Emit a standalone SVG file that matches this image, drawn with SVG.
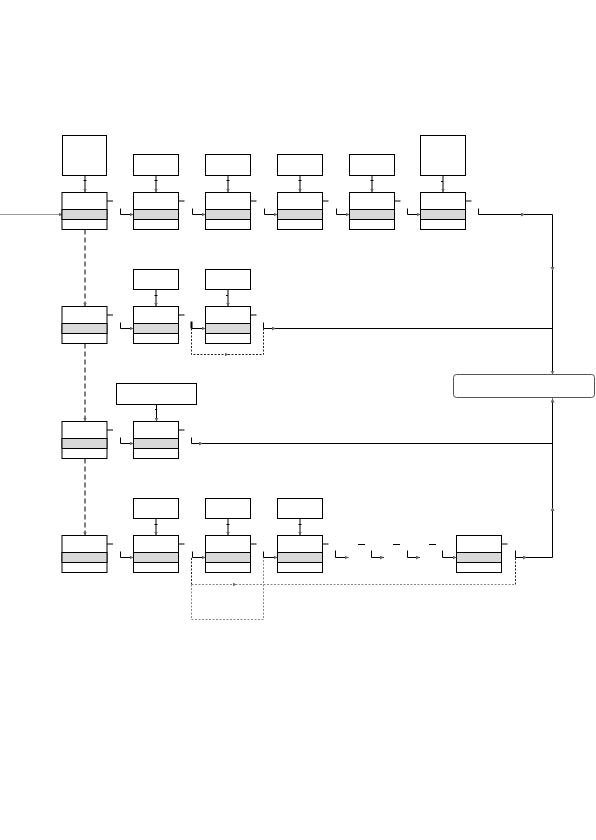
<svg xmlns="http://www.w3.org/2000/svg" width="596" height="840" viewBox="0 0 596 840">
<defs>
<style>
.bx{fill:#fff;stroke:#000;stroke-width:1}
.band{fill:#d9d9d9;stroke:#000;stroke-width:1}
.ln{fill:none;stroke:#000;stroke-width:1}
.dash{fill:none;stroke:#000;stroke-width:1;stroke-dasharray:5,3}
.dotk{fill:none;stroke:#222;stroke-width:1;stroke-dasharray:2,1.5}
.dotg{fill:none;stroke:#888;stroke-width:1;stroke-dasharray:2,1.5}
.gry{fill:none;stroke:#999;stroke-width:1}
.rb{fill:#fff;stroke:#555;stroke-width:1}
</style>
<marker id="ah" markerUnits="userSpaceOnUse" markerWidth="5" markerHeight="5" refX="4" refY="2" orient="auto">
<path d="M0,0 L4,2 L0,4 z" fill="#666"/>
</marker>
<g id="node">
<rect class="bx" x="0" y="0" width="45" height="37"/>
<rect class="band" x="0" y="17" width="45" height="10"/>
<line class="ln" x1="45" y1="8.5" x2="51" y2="8.5"/>
</g>
</defs>
<rect width="596" height="840" fill="#fff"/>

<g id="connectors">
<!-- incoming -->
<path class="gry" d="M0,214.5 H62.5" marker-end="url(#ah)"/>
<!-- box to node verticals row1 -->
<path class="ln" d="M85,175.5 V192.5" marker-end="url(#ah)"/>
<path class="ln" d="M156,175.5 V192.5" marker-end="url(#ah)"/>
<path class="ln" d="M228,175.5 V192.5" marker-end="url(#ah)"/>
<path class="ln" d="M300,175.5 V192.5" marker-end="url(#ah)"/>
<path class="ln" d="M372,175.5 V192.5" marker-end="url(#ah)"/>
<path class="ln" d="M443,175.5 V192.5" marker-end="url(#ah)"/>
<path class="ln" d="M83.5,180.5 H86.5 M154.5,180.5 H157.5 M226.5,180.5 H229.5 M298.5,180.5 H301.5 M370.5,180.5 H373.5 M441,181.5 H443"/>
<!-- row1 L connectors -->
<path class="ln" d="M120.5,208.5 V214.5 H133.5" marker-end="url(#ah)"/>
<path class="ln" d="M192.5,208.5 V214.5 H205.5" marker-end="url(#ah)"/>
<path class="ln" d="M264.5,208.5 V214.5 H277.5" marker-end="url(#ah)"/>
<path class="ln" d="M336.5,208.5 V214.5 H349.5" marker-end="url(#ah)"/>
<path class="ln" d="M407.5,208.5 V214.5 H420.5" marker-end="url(#ah)"/>
<path class="ln" d="M478.5,208.5 V214.5 H525" marker-end="url(#ah)"/>
<path class="ln" d="M524,214.5 H552.5 V271" marker-end="url(#ah)"/>
<path class="ln" d="M552.5,270 V374.5" marker-end="url(#ah)"/>
<!-- dashed verticals col1 -->
<path class="dash" d="M85,229.5 V306.5" marker-end="url(#ah)"/>
<path class="dash" d="M85,343.5 V421.5" marker-end="url(#ah)"/>
<path class="dash" d="M85,458.5 V535.5" marker-end="url(#ah)"/>
<!-- row2 -->
<path class="ln" d="M156,289.5 V306.5" marker-end="url(#ah)"/>
<path class="ln" d="M228,289.5 V306.5" marker-end="url(#ah)"/>
<path class="ln" d="M154.5,295.5 H157.5 M226,295.5 H228"/>
<path class="ln" d="M120.5,322.5 V328.5 H133.5" marker-end="url(#ah)"/>
<path class="ln" d="M191.5,328.5 H205.5" marker-end="url(#ah)"/>
<path fill="none" stroke="#000" stroke-width="2" d="M191.5,321.5 V328.5"/>
<path class="ln" d="M263.5,322.5 V328.5 H276" marker-end="url(#ah)"/>
<path class="ln" d="M275,328.5 H552.5"/>
<path class="dotk" d="M191.5,328.5 V354.5 H228.5" marker-end="url(#ah)"/>
<path class="dotk" d="M228,354.5 H263.5 V328.5"/>
<!-- row3 -->
<path class="ln" d="M156.5,404.5 V421.5" marker-end="url(#ah)"/>
<path class="ln" d="M155,409.5 H157"/>
<path class="ln" d="M120.5,437.5 V443.5 H133.5" marker-end="url(#ah)"/>
<path class="ln" d="M191.5,437.5 V443.5 H203" marker-end="url(#ah)"/>
<path class="ln" d="M202,443.5 H552.5"/>
<!-- row4 -->
<path class="ln" d="M156,518.5 V535.5" marker-end="url(#ah)"/>
<path class="ln" d="M228,518.5 V535.5" marker-end="url(#ah)"/>
<path class="ln" d="M300,518.5 V535.5" marker-end="url(#ah)"/>
<path class="ln" d="M154.5,524.5 H157.5 M226.5,524.5 H229.5 M298.5,524.5 H301.5"/>
<path class="ln" d="M120.5,551.5 V557.5 H133.5" marker-end="url(#ah)"/>
<path class="ln" d="M192.5,551.5 V557.5 H205.5" marker-end="url(#ah)"/>
<path class="ln" d="M263.5,551.5 V557.5 H277.5" marker-end="url(#ah)"/>
<path class="ln" d="M358,544.5 H365 M393,544.5 H400 M429,544.5 H436"/>
<path class="ln" d="M335.5,550.5 V557.5 H348.5" marker-end="url(#ah)"/>
<path class="ln" d="M371.5,550.5 V557.5 H384" marker-end="url(#ah)"/>
<path class="ln" d="M407.5,550.5 V557.5 H420" marker-end="url(#ah)"/>
<path class="ln" d="M442.5,550.5 V557.5 H456.5" marker-end="url(#ah)"/>
<path class="ln" d="M515.5,550.5 V557.5 H527" marker-end="url(#ah)"/>
<path class="ln" d="M526,557.5 H552.5 V507" marker-end="url(#ah)"/>
<path class="ln" d="M552.5,508 V398.5" marker-end="url(#ah)"/>
<!-- row4 dotted -->
<path class="dotk" d="M191.5,558 V584.5"/>
<path class="dotg" d="M191.5,584.5 H236.5" marker-end="url(#ah)"/>
<path class="dotg" d="M235.5,584.5 H515.5"/>
<path class="dotk" d="M515.5,558 V584.5"/>
<path class="dotg" d="M191.5,584.5 V619.5 H263.5 V558"/>
</g>

<g id="n_r1c1_src"><rect class="bx" x="62.5" y="135.5" width="44" height="40"/></g>
<g id="n_r1c2_src"><rect class="bx" x="133.5" y="154.5" width="45" height="21"/></g>
<g id="n_r1c3_src"><rect class="bx" x="205.5" y="154.5" width="45" height="21"/></g>
<g id="n_r1c4_src"><rect class="bx" x="277.5" y="154.5" width="45" height="21"/></g>
<g id="n_r1c5_src"><rect class="bx" x="349.5" y="154.5" width="45" height="21"/></g>
<g id="n_r1c6_src"><rect class="bx" x="420.5" y="135.5" width="45" height="40"/></g>

<g id="n_r1c1"><use href="#node" x="62" y="192.5"/></g>
<g id="n_r1c2"><use href="#node" x="133.5" y="192.5"/></g>
<g id="n_r1c3"><use href="#node" x="205.5" y="192.5"/></g>
<g id="n_r1c4"><use href="#node" x="277.5" y="192.5"/></g>
<g id="n_r1c5"><use href="#node" x="349.5" y="192.5"/></g>
<g id="n_r1c6"><use href="#node" x="420.5" y="192.5"/></g>

<g id="n_r2c2_src"><rect class="bx" x="133.5" y="269.5" width="45" height="20"/></g>
<g id="n_r2c3_src"><rect class="bx" x="205.5" y="269.5" width="45" height="20"/></g>
<g id="n_r2c1"><use href="#node" x="62" y="306.5"/></g>
<g id="n_r2c2"><use href="#node" x="133.5" y="306.5"/></g>
<g id="n_r2c3"><use href="#node" x="205.5" y="306.5"/></g>

<g id="n_r3c2_src"><rect class="bx" x="116.5" y="383.5" width="80" height="21"/></g>
<g id="n_r3c1"><use href="#node" x="62" y="421.5"/></g>
<g id="n_r3c2"><use href="#node" x="133.5" y="421.5"/></g>

<g id="n_r4c2_src"><rect class="bx" x="133.5" y="498.5" width="45" height="20"/></g>
<g id="n_r4c3_src"><rect class="bx" x="205.5" y="498.5" width="45" height="20"/></g>
<g id="n_r4c4_src"><rect class="bx" x="277.5" y="498.5" width="45" height="20"/></g>
<g id="n_r4c1"><use href="#node" x="62" y="535.5"/></g>
<g id="n_r4c2"><use href="#node" x="133.5" y="535.5"/></g>
<g id="n_r4c3"><use href="#node" x="205.5" y="535.5"/></g>
<g id="n_r4c4"><use href="#node" x="277.5" y="535.5"/></g>
<g id="n_r4c5"><use href="#node" x="456.5" y="535.5"/></g>

<g id="n_target"><rect class="rb" x="453.5" y="374.5" width="141" height="23" rx="3"/></g>
</svg>
